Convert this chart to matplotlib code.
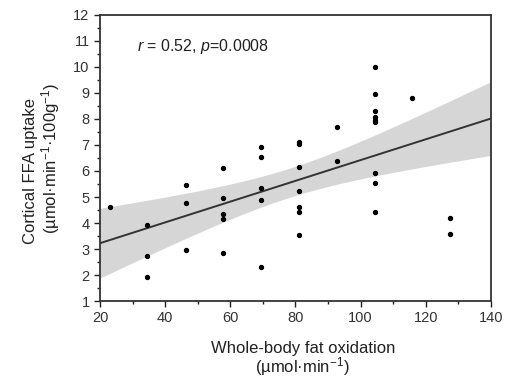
import matplotlib
matplotlib.use("Agg")
import matplotlib.pyplot as plt
from matplotlib.ticker import MultipleLocator
import numpy as np

plt.rcParams["font.family"] = ["Liberation Sans", "DejaVu Sans"]
plt.rcParams["mathtext.fontset"] = "custom"
plt.rcParams["mathtext.rm"] = "Liberation Sans"
plt.rcParams["mathtext.it"] = "Liberation Sans:italic"

# --- data ---
fat_oxidation = [
    23.0,
    34.5, 34.5, 34.5,
    46.3, 46.3, 46.3,
    57.9, 57.9, 57.9, 57.9, 57.9,
    69.4, 69.4, 69.4, 69.4, 69.4,
    81.1, 81.1, 81.1, 81.1, 81.1, 81.1, 81.1,
    92.7, 92.7,
    104.3, 104.3, 104.3, 104.3, 104.3, 104.3, 104.3, 104.3, 104.3,
    115.9,
    127.4, 127.4,
]
ffa_uptake = [
    4.63,
    3.91, 2.73, 1.94,
    5.47, 4.76, 2.95,
    6.10, 4.96, 4.33, 4.15, 2.83,
    6.94, 6.55, 5.33, 4.88, 2.32,
    7.10, 7.04, 6.14, 5.24, 4.63, 4.42, 3.55,
    7.70, 6.38,
    10.01, 8.96, 8.31, 8.06, 7.96, 7.87, 5.92, 5.53, 4.41,
    8.79,
    4.20, 3.58,
]
x_ticks = [20, 40, 60, 80, 100, 120, 140]
y_ticks = list(range(1, 13))
stats_text = r"$\it{r}$ = 0.52, $\it{p}$=0.0008"

x = np.array(fat_oxidation)
y = np.array(ffa_uptake)

# --- linear fit with 95% confidence band ---
slope, intercept = np.polyfit(x, y, 1)
n = len(x)
resid = y - (slope * x + intercept)
s_err = np.sqrt(np.sum(resid ** 2) / (n - 2))
t_crit = 2.028  # df = 36
xs = np.linspace(20, 140, 200)
ys = slope * xs + intercept
ci = t_crit * s_err * np.sqrt(1 / n + (xs - x.mean()) ** 2 / np.sum((x - x.mean()) ** 2))

W, H = 509, 383
fig = plt.figure(figsize=(W / 100, H / 100), dpi=100)
ax = fig.add_axes([0.1965, 0.214, 0.768, 0.747])

ax.fill_between(xs, ys - ci, ys + ci, color="#d6d6d6", lw=0, zorder=1)
ax.plot(xs, ys, color="#333333", lw=1.4, zorder=2)
ax.scatter(x, y, s=8, color="black", zorder=3)

ax.set_xlim(20, 140)
ax.set_ylim(1, 12)
ax.set_xticks(x_ticks)
ax.set_yticks(y_ticks)
ax.xaxis.set_minor_locator(MultipleLocator(10))
ax.yaxis.set_minor_locator(MultipleLocator(0.5))
ax.tick_params(which="major", direction="out", length=4, width=1, colors="#222222",
               labelsize=10.5, labelcolor="#333333")
ax.tick_params(which="minor", direction="out", length=2.5, width=1, colors="#222222")
for sp in ax.spines.values():
    sp.set_linewidth(1.3)
    sp.set_color("#333333")

ax.text(31.5, 10.8, stats_text, fontsize=11.5, color="#222222", va="center")

# axis titles, two lines each
lab = dict(fontsize=12, color="#222222", ha="center", va="center")
fig.text(303 / W, 1 - 348 / H, "Whole-body fat oxidation", **lab)
fig.text(302 / W, 1 - 367 / H, "(µmol·min$^{-1}$)", **lab)
fig.text(31 / W, 1 - 171 / H, "Cortical FFA uptake", rotation=90, **lab)
fig.text(51 / W, 1 - 158 / H, "(µmol·min$^{-1}$·100g$^{-1}$)", rotation=90, **lab)

fig.savefig("out.png", dpi=100)
